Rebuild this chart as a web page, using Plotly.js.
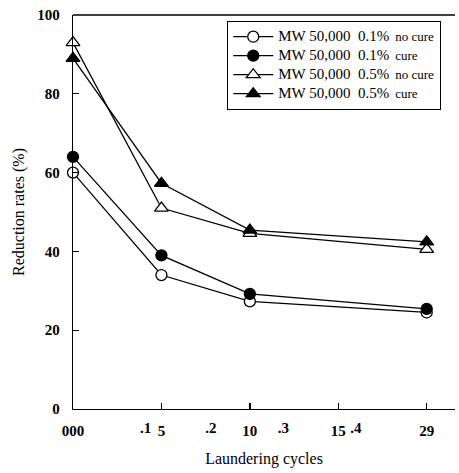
<!DOCTYPE html>
<html>
<head>
<meta charset="utf-8">
<script src="https://cdn.plot.ly/plotly-3.0.1.min.js"></script>
<style>html,body{margin:0;padding:0;background:#fff;}#chart{width:459px;height:473px;}</style>
</head>
<body>
<div id="chart"></div>
<script>
// Data
const cycles = [0, 5, 10, 20];
const noCure01 = [60, 34, 27.3, 24.5];
const cure01 = [64, 39, 29.2, 25.4];
const noCure05 = [93, 51, 44.6, 40.5];
const cure05 = [89, 57.3, 45.4, 42.4];
const seriesNames = [
  '<span style="font-size:15px">MW 50,000  0.1%</span>  <span style="font-size:13px">no cure</span>',
  '<span style="font-size:15px">MW 50,000  0.1%</span>  <span style="font-size:13px">cure</span>',
  '<span style="font-size:15px">MW 50,000  0.5%</span>  <span style="font-size:13px">no cure</span>',
  '<span style="font-size:15px">MW 50,000  0.5%</span>  <span style="font-size:13px">cure</span>'
];
const xTickVals = [0, 5, 10, 15, 20];
const xTickText = ['000', '5', '10', '15', '29'];
const xTickVals2 = [4.1, 7.8, 11.9, 16.0];
const xTickText2 = ['.1', '.2', '.3', '.4'];
const yTickVals = [0, 20, 40, 60, 80, 100];
const yTickText = ['0', '20', '40', '60', '80', '100'];

const serif = 'Liberation Serif, Times New Roman, serif';
function tr(y, name, symbol, fill, size) {
  return {
    x: cycles, y: y, name: name, type: 'scatter', mode: 'lines+markers',
    line: {color: '#000', width: 1.3},
    marker: {symbol: symbol, size: size, color: fill, line: {color: '#000', width: 1.3}},
    cliponaxis: false
  };
}
const data = [
  tr(noCure01, seriesNames[0], 'circle', '#fff', 11),
  tr(cure01, seriesNames[1], 'circle', '#000', 11),
  tr(noCure05, seriesNames[2], 'triangle-up', '#fff', 12),
  tr(cure05, seriesNames[3], 'triangle-up', '#000', 12),
  {x: [0], y: [null], xaxis: 'x2', showlegend: false, hoverinfo: 'skip', type: 'scatter', mode: 'markers'}
];

const tickFont = {family: serif, size: 15, color: '#000', weight: 'bold'};
const layout = {
  width: 459, height: 473,
  margin: {l: 73, r: 4, t: 15, b: 64},
  paper_bgcolor: '#fff', plot_bgcolor: '#fff',
  font: {family: serif, color: '#000', size: 13},
  showlegend: true,
  legend: {
    x: 0.403, y: 0.985, xanchor: 'left', yanchor: 'top',
    bordercolor: '#000', borderwidth: 1.3, bgcolor: '#fff',
    font: {family: serif, size: 12, color: '#000'},
    tracegroupgap: 0, itemwidth: 40
  },
  xaxis: {
    range: [0, 21.6], showgrid: false, zeroline: false,
    showline: true, linecolor: '#000', linewidth: 1.3,
    ticks: 'inside', ticklen: 6, tickcolor: '#000', tickwidth: 1.3,
    tickvals: xTickVals, ticktext: xTickText,
    tickfont: tickFont, ticklabelstandoff: 8,
    title: {text: 'Laundering cycles', font: {family: serif, size: 16, color: '#000'}, standoff: 14}
  },
  xaxis2: {
    range: [0, 21.6], overlaying: 'x', side: 'bottom', anchor: 'y',
    showgrid: false, zeroline: false, showline: false, ticks: '',
    tickvals: xTickVals2, ticktext: xTickText2,
    tickfont: tickFont, ticklabelstandoff: 8
  },
  yaxis: {
    range: [0, 100], showgrid: false, zeroline: false,
    showline: true, linecolor: '#000', linewidth: 1.3,
    ticks: 'inside', ticklen: 6, tickcolor: '#000', tickwidth: 1.3,
    tickvals: yTickVals, ticktext: yTickText,
    tickfont: tickFont, ticklabelstandoff: 9,
    title: {text: 'Reduction rates (%)', font: {family: serif, size: 16, color: '#000'}, standoff: 8}
  },
  shapes: [
    {type: 'line', xref: 'paper', yref: 'paper', x0: 0, x1: 1, y0: 1, y1: 1,
     line: {color: '#000', width: 1.3}}
  ]
};
Plotly.newPlot('chart', data, layout, {displayModeBar: false, staticPlot: true});
</script>
</body>
</html>
